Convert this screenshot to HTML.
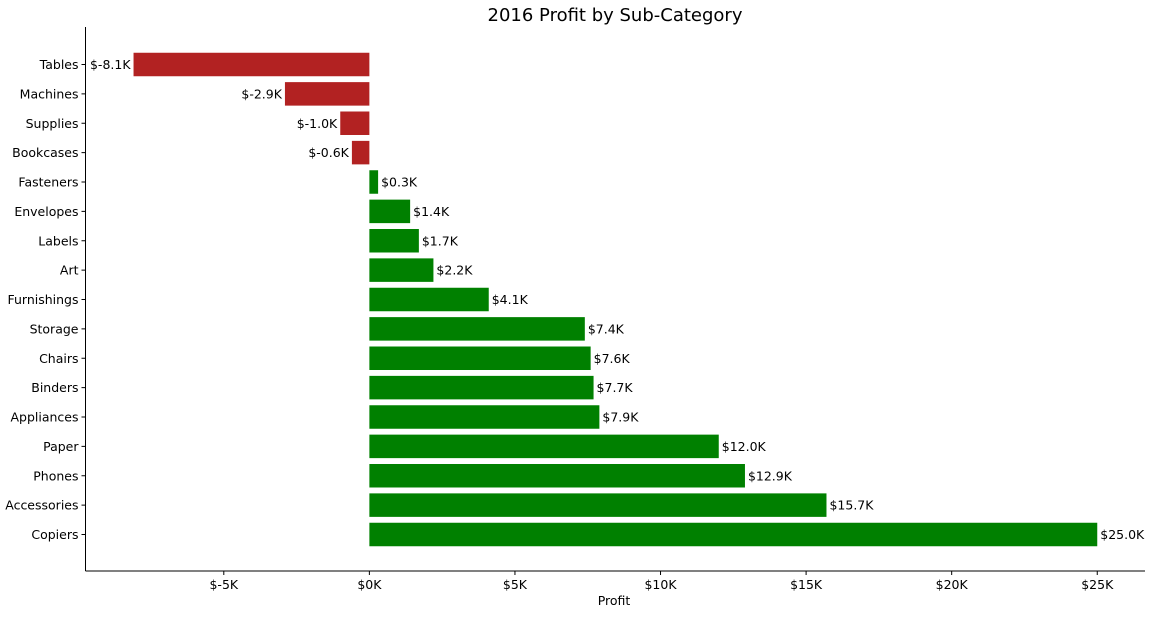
<!DOCTYPE html>
<html><head><meta charset="utf-8"><style>
body{margin:0;background:#fff;}
svg text{font-family:"DejaVu Sans","Liberation Sans",sans-serif;fill:#000;}
</style></head><body>
<svg id="chart" width="1152" height="615" xmlns="http://www.w3.org/2000/svg">
<text x="615" y="21" text-anchor="middle" font-size="18">2016 Profit by Sub-Category</text>
<g id="bars"></g><g id="axes"></g>
<text x="614" y="605" text-anchor="middle" font-size="12.5">Profit</text>
</svg>
<script>
const categories=["Tables","Machines","Supplies","Bookcases","Fasteners","Envelopes","Labels","Art","Furnishings","Storage","Chairs","Binders","Appliances","Paper","Phones","Accessories","Copiers"];
const profits=[-8.1,-2.9,-1.0,-0.6,0.3,1.4,1.7,2.2,4.1,7.4,7.6,7.7,7.9,12.0,12.9,15.7,25.0];
const xTicks=[-5,0,5,10,15,20,25];
const xTickLabels=["$-5K","$0K","$5K","$10K","$15K","$20K","$25K"];
const NS="http://www.w3.org/2000/svg";
const L=85.5,R=1145,T=27,B=571;
const xMin=-9.75,xMax=26.64;
const x=v=>L+(v-xMin)/(xMax-xMin)*(R-L);
const step=(534.5-64.5)/16;
const y=i=>64.5+i*step;
const bh=step*0.8;
const bars=document.getElementById('bars'),axes=document.getElementById('axes');
function mk(t,a,p){const e=document.createElementNS(NS,t);for(const k in a)e.setAttribute(k,a[k]);p.appendChild(e);return e;}
categories.forEach((c,i)=>{
  const v=profits[i];
  const r=mk('rect',{x:Math.min(x(0),x(v)),y:y(i)-bh/2,width:Math.abs(x(v)-x(0)),height:bh,fill:v<0?'#b22222':'#008000'},bars);
  
  
  const t=mk('text',{x:v<0?x(v)-3:x(v)+3,y:y(i)+4.5,'font-size':12.5,'text-anchor':v<0?'end':'start'},bars);
  t.textContent='$'+v.toFixed(1)+'K';
  
  
  const tk=mk('line',{x1:L-4,x2:L,y1:y(i),y2:y(i),stroke:'#000'},axes);
  
  
  const yl=mk('text',{x:L-7,y:y(i)+4.5,'font-size':12.5,'text-anchor':'end'},axes);
  yl.textContent=c;
  
  
});
xTicks.forEach((v,i)=>{
  const tk=mk('line',{x1:x(v),x2:x(v),y1:B,y2:B+4,stroke:'#000'},axes);
  
  
  const t=mk('text',{x:x(v),y:B+18,'font-size':12.5,'text-anchor':'middle'},axes);
  t.textContent=xTickLabels[i];
  
  
});
const ls=mk('line',{x1:L,x2:L,y1:T,y2:B,stroke:'#000'},axes);


const bs=mk('line',{x1:L,x2:R,y1:B,y2:B,stroke:'#000'},axes);


</script>
</body></html>
